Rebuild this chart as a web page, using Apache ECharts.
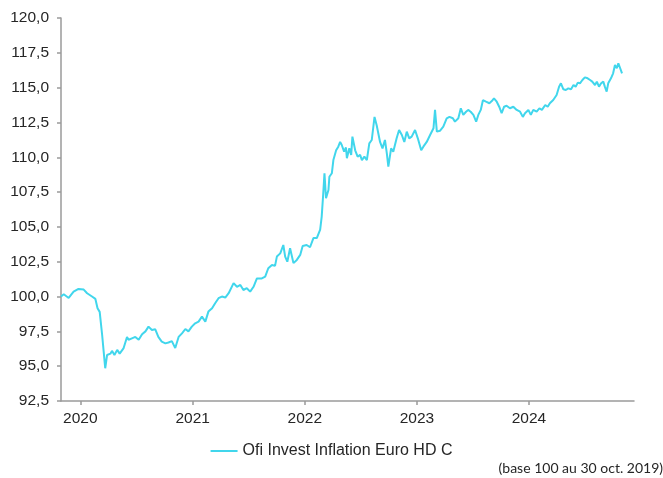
<!DOCTYPE html>
<html>
<head>
<meta charset="utf-8">
<script src="https://cdn.jsdelivr.net/npm/echarts@6/dist/echarts.min.js"></script>
<style>
  html, body { margin: 0; padding: 0; background: #fff; }
  #main { width: 663px; height: 478px; }
</style>
</head>
<body>
<div id="main"></div>
<script>
// valeurs (base 100 au 30 oct. 2019)
var dates = [
  '2019-10-30','2019-11-08','2019-11-24','2019-12-10','2019-12-26',
  '2020-01-12','2020-01-23','2020-02-08','2020-02-19','2020-02-26','2020-03-04','2020-03-12','2020-03-17','2020-03-22','2020-03-28',
  '2020-04-08','2020-04-13','2020-04-21','2020-04-30','2020-05-08','2020-05-21','2020-06-01','2020-06-06','2020-06-17','2020-06-28',
  '2020-07-09','2020-07-20','2020-07-31','2020-08-10','2020-08-21','2020-09-01','2020-09-11','2020-09-22','2020-10-04','2020-10-14',
  '2020-10-25','2020-11-05','2020-11-16','2020-11-27','2020-12-08','2020-12-18','2020-12-29',
  '2021-01-09','2021-01-20','2021-01-31','2021-02-11','2021-02-21','2021-03-05','2021-03-15','2021-03-26','2021-04-06','2021-04-17',
  '2021-04-28','2021-05-14','2021-05-25','2021-06-05','2021-06-15','2021-06-26','2021-07-07','2021-07-18','2021-07-29','2021-08-14',
  '2021-08-25','2021-09-04','2021-09-16','2021-09-26','2021-10-02','2021-10-13','2021-10-23','2021-10-29','2021-11-05','2021-11-14',
  '2021-11-25','2021-12-06','2021-12-17','2021-12-25',
  '2022-01-07','2022-01-18','2022-01-29','2022-02-09','2022-02-20','2022-02-25','2022-03-02','2022-03-06','2022-03-11','2022-03-19',
  '2022-03-22','2022-03-30','2022-04-04','2022-04-13','2022-04-20','2022-04-26','2022-05-01','2022-05-09','2022-05-15','2022-05-18',
  '2022-05-26','2022-06-01','2022-06-05','2022-06-14','2022-06-22','2022-06-30','2022-07-06','2022-07-14','2022-07-22','2022-07-30',
  '2022-08-07','2022-08-16','2022-08-23','2022-09-03','2022-09-11','2022-09-19','2022-09-25','2022-09-30','2022-10-09','2022-10-16',
  '2022-10-27','2022-11-04','2022-11-13','2022-11-21','2022-11-29','2022-12-07','2022-12-15','2022-12-26',
  '2023-01-04','2023-01-15','2023-01-22','2023-02-02','2023-02-13','2023-02-24','2023-03-01','2023-03-07','2023-03-17','2023-03-28',
  '2023-04-08','2023-04-17','2023-04-28','2023-05-05','2023-05-16','2023-05-24','2023-06-01','2023-06-10','2023-06-17','2023-06-25',
  '2023-07-04','2023-07-13','2023-07-20','2023-07-28','2023-08-04','2023-08-14','2023-08-25','2023-09-02','2023-09-09','2023-09-18',
  '2023-09-26','2023-10-04','2023-10-12','2023-10-20','2023-10-31','2023-11-11','2023-11-22','2023-12-03','2023-12-12','2023-12-19',
  '2023-12-30',
  '2024-01-07','2024-01-15','2024-01-26','2024-02-04','2024-02-12','2024-02-23','2024-03-02','2024-03-09','2024-03-20','2024-03-31',
  '2024-04-08','2024-04-14','2024-04-22','2024-04-30','2024-05-08','2024-05-17','2024-05-25','2024-06-01','2024-06-08','2024-06-15',
  '2024-06-23','2024-07-01','2024-07-10','2024-07-18','2024-07-25','2024-08-03','2024-08-09','2024-08-16','2024-08-23','2024-08-30',
  '2024-09-04','2024-09-10','2024-09-15','2024-09-24','2024-10-01','2024-10-07','2024-10-13','2024-10-18','2024-10-24','2024-10-30'
];
var fundValues = [
  100.0, 100.16, 99.9, 100.35, 100.55,
  100.5, 100.24, 100.0, 99.83, 99.16, 98.9, 97.24, 96.05, 94.85, 95.8,
  95.9, 96.1, 95.8, 96.17, 95.9, 96.3, 97.1, 96.9, 97.0, 97.1,
  96.9, 97.3, 97.5, 97.84, 97.6, 97.65, 97.1, 96.76, 96.64, 96.7,
  96.8, 96.3, 97.1, 97.36, 97.67, 97.5, 97.84,
  98.08, 98.2, 98.56, 98.2, 98.92, 99.16, 99.52, 99.88, 100.0, 99.93,
  100.24, 100.96, 100.7, 100.83, 100.47, 100.6, 100.35, 100.7, 101.3, 101.3,
  101.43, 102.03, 102.27, 102.2, 102.87, 103.1, 103.7, 102.87, 102.5, 103.47,
  102.4, 102.63, 102.99, 103.63,
  103.7, 103.54, 104.2, 104.2, 104.8, 105.74, 107.4, 108.85, 107.06, 107.65,
  108.6, 108.85, 109.8, 110.5, 110.76, 111.1, 110.9, 110.4, 110.7, 109.93,
  110.64, 110.17, 111.48, 110.5, 110.04, 110.17, 109.8, 110.04, 109.8, 111.0,
  111.24, 112.9, 112.3, 111.1, 110.64, 111.24, 110.3, 109.33, 110.64, 110.4,
  111.36, 111.96, 111.6, 111.1, 111.84, 111.36, 111.48, 111.96,
  111.36, 110.5, 110.76, 111.1, 111.6, 112.08, 113.4, 111.84, 111.9, 112.2,
  112.8, 112.9, 112.8, 112.56, 112.8, 113.52, 113.04, 113.27, 113.4, 113.27,
  113.04, 112.56, 113.04, 113.4, 114.1, 113.99, 113.88, 114.04, 114.23, 113.99,
  113.63, 113.16, 113.63, 113.7, 113.52, 113.63, 113.4, 113.27, 112.9, 113.16,
  113.4,
  113.04, 113.4, 113.27, 113.52, 113.4, 113.75, 113.63, 113.88, 114.11, 114.47,
  115.07, 115.31, 114.88, 114.83, 114.95, 114.88, 115.19, 115.07, 115.36, 115.31,
  115.55, 115.74, 115.67, 115.55, 115.43, 115.19, 115.43, 115.07, 115.31, 115.43,
  115.07, 114.71, 115.31, 115.67, 116.03, 116.63, 116.39, 116.75, 116.39, 116.03
];
var yearTicks = ['2020-01-01', '2021-01-01', '2022-01-01', '2023-01-01', '2024-01-01'];
var axisStart = '2019-10-30';
var axisEnd = '2024-12-08';
var seriesName = 'Ofi Invest Inflation Euro HD C';
var footNote = '(base 100 au 30 oct. 2019)';

function ts(d) {
    return +echarts.time.parse(d);
}

var seriesData = [];
for (var i = 0; i < dates.length; i++) {
    seriesData.push([ts(dates[i]), fundValues[i]]);
}
var tickValues = yearTicks.map(ts);

var myChart = echarts.init(document.getElementById('main'));
var option = {
    animation: false,
    backgroundColor: '#ffffff',
    textStyle: { fontFamily: 'Liberation Sans, Arial, sans-serif' },
    grid: {
        left: 61,
        right: 29,
        top: 18,
        bottom: 77
    },
    legend: {
        data: [seriesName],
        bottom: 14,
        left: 'center',
        icon: 'rect',
        itemWidth: 27,
        itemHeight: 2,
        itemGap: 10,
        textStyle: {
            fontSize: 16,
            color: '#262626',
            fontFamily: 'Liberation Sans, Arial, sans-serif'
        }
    },
    xAxis: {
        type: 'value',
        min: ts(axisStart),
        max: ts(axisEnd),
        axisLine: { lineStyle: { color: '#9a9a9a', width: 1.5 } },
        axisTick: {
            show: true,
            length: 4,
            customValues: tickValues,
            lineStyle: { color: '#9a9a9a', width: 1.5 }
        },
        axisLabel: {
            customValues: tickValues,
            margin: 10,
            fontSize: 15.5,
            color: '#262626',
            formatter: function (v) { return String(new Date(v).getFullYear()); }
        },
        splitLine: { show: false }
    },
    yAxis: {
        type: 'value',
        min: 92.5,
        max: 120,
        interval: 2.5,
        axisLine: { show: true, lineStyle: { color: '#9a9a9a', width: 1.5 } },
        axisTick: { show: true, length: 4, lineStyle: { color: '#9a9a9a', width: 1.5 } },
        axisLabel: {
            margin: 12,
            fontSize: 15.5,
            color: '#262626',
            formatter: function (v) { return v.toFixed(1).replace('.', ','); }
        },
        splitLine: { show: false }
    },
    graphic: [{
        type: 'text',
        right: 0,
        top: 461,
        style: {
            text: footNote,
            fontSize: 14,
            fill: '#262626',
            fontFamily: 'Lato, Noto Sans, sans-serif'
        }
    }],
    series: [{
        name: seriesName,
        type: 'line',
        symbol: 'none',
        data: seriesData,
        lineStyle: { color: '#41d6ec', width: 2 },
        itemStyle: { color: '#41d6ec' }
    }]
};
myChart.setOption(option);
</script>
</body>
</html>
